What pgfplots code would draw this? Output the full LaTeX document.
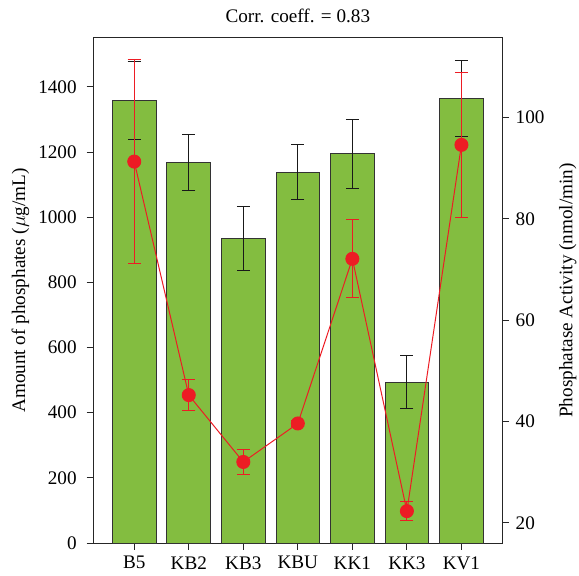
\documentclass[border=0pt]{standalone}
\usepackage{pgfplots}
\pgfplotsset{compat=1.18}
\usepackage{fontspec}
\setmainfont{Liberation Serif}
\definecolor{barg}{RGB}{131,189,64}
\definecolor{lred}{RGB}{237,28,36}
\begin{document}
\fontsize{11.5}{13.5}\selectfont
\begin{tikzpicture}
\useasboundingbox (-56pt,-19.6pt) rectangle (291.4pt,325.8pt);
\begin{axis}[
  at={(0pt,0pt)}, anchor=south west,
  scale only axis, width=245.4pt, height=303pt,
  xmin=-0.75, xmax=6.75, ymin=0, ymax=1550,
  xtick={0,...,6}, xticklabels={B5,KB2,KB3,KBU,KK1,KK3,KV1},
  ytick={0,200,...,1400},
  xtick pos=bottom, ytick pos=left,
  tick align=outside, major tick length=4pt,
  axis line style={black!85, line width=0.6pt},
  tick style={black!85, line width=0.6pt},
  /pgf/number format/assume math mode=true,
  /pgf/number format/1000 sep={},
  ylabel={Amount of phosphates ($\mu$g/mL)},
  ylabel style={at={(axis description cs:-0.178,0.5)}, anchor=center},
  yticklabel style={xshift=-2pt},
]
\addplot[ybar, bar width=0.8, fill=barg, draw=black!80, line width=0.6pt,
  error bars/.cd, y dir=both, y explicit,
  error bar style={black!90, line width=0.6pt},
  error mark options={black!90, rotate=90, mark size=3.9pt, line width=0.6pt}]
  coordinates {
  (0,1357) +- (0,120)
  (1,1168) +- (0,86)
  (2,934) +- (0,99)
  (3,1138) +- (0,85)
  (4,1194) +- (0,107)
  (5,493) +- (0,81)
  (6,1364) +- (0,117)
  };
\end{axis}
\begin{axis}[
  at={(0pt,0pt)}, anchor=south west,
  scale only axis, width=245.4pt, height=303pt,
  xmin=-0.75, xmax=6.75, ymin=16, ymax=115.7,
  axis x line=none, axis y line*=right,
  ytick={20,40,...,100},
  tick align=outside, major tick length=4pt,
  axis line style={black!85, line width=0.6pt},
  tick style={black!85, line width=0.6pt},
  /pgf/number format/assume math mode=true,
  ylabel={Phosphatase Activity (nmol/min)},
  ylabel style={at={(axis description cs:1.16,0.5)}, anchor=center},
  title={Corr. coeff. = 0.83},
  title style={yshift=-1pt},
]
\addplot[lred, line width=0.6pt, mark=*, mark size=3.9pt, mark options={fill=lred, draw=lred},
  error bars/.cd, y dir=both, y explicit,
  error bar style={lred, line width=0.6pt},
  error mark options={lred, rotate=90, mark size=3.9pt, line width=0.6pt}]
  coordinates {
  (0,91.3) +- (0,20.1)
  (1,45.2) +- (0,3.0)
  (2,32.0) +- (0,2.5)
  (3,39.6) +- (0,0.6)
  (4,72.1) +- (0,7.7)
  (5,22.3) +- (0,1.9)
  (6,94.6) +- (0,14.3)
  };
\end{axis}
\end{tikzpicture}
\end{document}
